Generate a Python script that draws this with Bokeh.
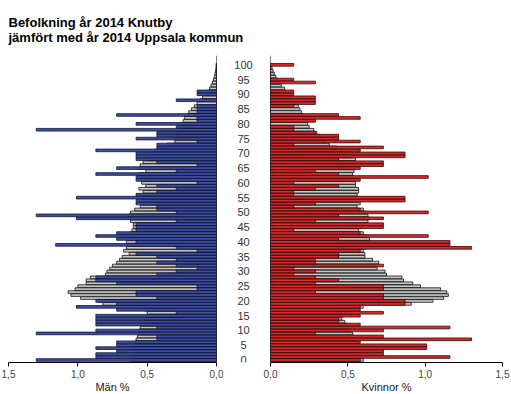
from bokeh.plotting import figure
from bokeh.layouts import column, row
from bokeh.models import Range1d, FixedTicker, Label, Span, ColumnDataSource, CustomJSTickFormatter
from bokeh.embed import file_html
from bokeh.resources import INLINE
from bokeh.core.properties import value

# ---------------- data ----------------
ages = list(range(0, 101))

men_knutby = [
    1.30, 0.87, 0.87, 0.72, 0.87, 0.72, 0.72, 0.43, 0.43, 1.30,
    0.87, 0.43, 0.87, 0.87, 0.87, 0.87, 0.29, 0.72, 1.01, 0.72,
    0.87, 0.43, 0.58, 0.58, 0.14, 0.14, 0.72, 0.87, 0.87, 0.43,
    0.29, 0.14, 0.29, 0.43, 0.29, 0.43, 0.58, 0.14, 0.29, 1.16,
    0.58, 0.72, 0.87, 0.72, 0.58, 0.58, 0.58, 0.29, 1.01, 1.30,
    0.29, 0.43, 0.43, 0.58, 0.58, 1.01, 0.58, 0.43, 0.29, 0.43,
    0.14, 0.58, 0.58, 0.87, 0.29, 0.72, 0.14, 0.43, 0.58, 0.58,
    0.58, 0.87, 0.43, 0.43, 0.14, 0.58, 0.43, 0.43, 1.30, 0.29,
    0.58, 0.14, 0.14, 0.72, 0.14, 0.14, 0.14, 0.00, 0.29, 0.00,
    0.14, 0.14, 0.00, 0.00, 0.00, 0.00, 0.00, 0.00, 0.00, 0.00,
    0.00,
]

men_uppsala = [
    0.62, 0.62, 0.61, 0.60, 0.60, 0.59, 0.59, 0.58, 0.57, 0.56,
    0.56, 0.55, 0.53, 0.52, 0.51, 0.50, 0.50, 0.52, 0.55, 0.82,
    0.85, 0.98, 1.05, 1.07, 1.02, 1.00, 0.94, 0.94, 0.91, 0.80,
    0.79, 0.77, 0.75, 0.72, 0.70, 0.68, 0.63, 0.67, 0.65, 0.64,
    0.65, 0.64, 0.62, 0.62, 0.61, 0.60, 0.60, 0.62, 0.62, 0.63,
    0.62, 0.59, 0.55, 0.54, 0.53, 0.52, 0.52, 0.53, 0.56, 0.51,
    0.54, 0.54, 0.55, 0.56, 0.51, 0.56, 0.55, 0.53, 0.50, 0.48,
    0.46, 0.44, 0.40, 0.36, 0.30, 0.31, 0.30, 0.29, 0.28, 0.27,
    0.26, 0.24, 0.23, 0.21, 0.20, 0.18, 0.16, 0.14, 0.12, 0.10,
    0.08, 0.065, 0.05, 0.04, 0.03, 0.022, 0.016, 0.011, 0.007, 0.004,
    0.003,
]

women_knutby = [
    0.58, 1.16, 0.73, 0.73, 1.01, 1.01, 0.58, 1.30, 0.73, 0.29,
    0.73, 1.16, 0.58, 0.44, 0.44, 0.58, 0.73, 0.58, 0.58, 0.87,
    0.87, 0.73, 0.73, 0.29, 0.73, 0.73, 0.29, 0.44, 0.29, 0.15,
    0.29, 0.15, 0.73, 0.29, 0.29, 0.44, 0.44, 0.58, 1.30, 1.16,
    1.16, 0.44, 1.02, 0.58, 0.15, 0.73, 0.73, 0.29, 0.73, 0.44,
    1.02, 0.58, 0.15, 0.29, 0.87, 0.87, 0.15, 0.15, 0.29, 0.44,
    0.15, 0.58, 1.02, 0.44, 0.29, 0.58, 0.73, 0.73, 0.44, 0.87,
    0.87, 0.58, 0.73, 0.15, 0.58, 0.44, 0.44, 0.29, 0.15, 0.15,
    0.00, 0.29, 0.58, 0.44, 0.00, 0.00, 0.15, 0.29, 0.29, 0.29,
    0.15, 0.15, 0.00, 0.00, 0.29, 0.15, 0.00, 0.00, 0.00, 0.00,
    0.15,
]

women_uppsala = [
    0.60, 0.59, 0.58, 0.58, 0.57, 0.56, 0.56, 0.55, 0.54, 0.53,
    0.52, 0.51, 0.50, 0.48, 0.46, 0.47, 0.48, 0.52, 0.60, 0.91,
    1.05, 1.12, 1.15, 1.14, 1.10, 0.97, 0.92, 0.86, 0.85, 0.75,
    0.74, 0.69, 0.68, 0.70, 0.66, 0.61, 0.61, 0.60, 0.62, 0.63,
    0.64, 0.64, 0.62, 0.60, 0.57, 0.60, 0.62, 0.63, 0.64, 0.63,
    0.62, 0.60, 0.56, 0.58, 0.57, 0.56, 0.56, 0.57, 0.57, 0.55,
    0.55, 0.55, 0.54, 0.53, 0.54, 0.55, 0.56, 0.55, 0.55, 0.52,
    0.50, 0.47, 0.43, 0.38, 0.36, 0.34, 0.32, 0.30, 0.28, 0.25,
    0.24, 0.23, 0.22, 0.21, 0.20, 0.19, 0.18, 0.16, 0.14, 0.12,
    0.11, 0.10, 0.09, 0.07, 0.06, 0.045, 0.035, 0.025, 0.017, 0.01,
    0.006,
]

age_ticks = list(range(0, 101, 5))
x_ticks = [0.0, 0.5, 1.0, 1.5]

title_lines = ["Befolkning år 2014 Knutby", "jämfört med år 2014 Uppsala kommun"]
men_label = "Män %"
women_label = "Kvinnor %"

# ---------------- styling ----------------
FONT = "Liberation Sans"
FH = 307
Y0, Y1 = -0.85, 103.15
BAR_H = 0.9

fmt = CustomJSTickFormatter(code="return tick.toFixed(1).replace('.', ',');")


def style_xaxis(p, label, hidden=False):
    ax = p.xaxis[0]
    ax.ticker = FixedTicker(ticks=x_ticks)
    ax.formatter = fmt
    ax.minor_tick_line_color = None
    ax.major_tick_in = 0
    ax.major_tick_out = 4
    ax.major_label_standoff = 3
    ax.axis_label = label
    ax.axis_label_standoff = 0
    ax.axis_label_text_font = FONT
    ax.axis_label_text_font_size = "11px"
    ax.axis_label_text_font_style = "normal"
    ax.axis_label_text_color = "#222222"
    ax.major_label_text_font = FONT
    ax.major_label_text_font_size = "10px"
    ax.major_label_text_color = "#444444"
    ax.axis_line_color = "black"
    ax.major_tick_line_color = "black"
    if hidden:
        ax.axis_line_alpha = 0
        ax.major_tick_line_alpha = 0
        ax.major_label_text_alpha = 0
        ax.axis_label_text_alpha = 0


def side(xr, label, kvals, uvals, kfill, kline, mbl, mbr, fw):
    p = figure(frame_width=fw, frame_height=FH, x_range=xr, y_range=Range1d(Y0, Y1),
               output_backend="svg", toolbar_location=None, y_axis_location=None,
               min_border_left=mbl, min_border_right=mbr, min_border_top=0,
               min_border_bottom=0, outline_line_color=None)
    p.grid.visible = False
    src = ColumnDataSource(dict(age=ages, u=uvals, k=kvals))
    p.hbar(y="age", left=0, right="u", height=BAR_H, fill_color="#c6c6c6",
           line_color="#111111", line_width=0.8, source=src)
    p.hbar(y="age", left=0, right="k", height=BAR_H, fill_color=kfill,
           line_color=kline, line_width=0.8, source=src)
    p.add_layout(Span(location=0, dimension="height", line_color="black", line_width=1))
    style_xaxis(p, label)
    return p


left = side(Range1d(1.5, 0), men_label, men_knutby, men_uppsala,
            "#3f4fa0", "#10153a", 8, 7, 208)
right = side(Range1d(0, 1.5), women_label, women_knutby, women_uppsala,
             "#d42c2c", "#3a0808", 7, 9, 232)

mid = figure(frame_width=40, frame_height=FH, x_range=Range1d(0, 1), y_range=Range1d(Y0, Y1),
             output_backend="svg", toolbar_location=None, y_axis_location=None,
             min_border_left=0, min_border_right=0, min_border_top=0, min_border_bottom=0,
             outline_line_color=None)
mid.grid.visible = False
mid.text(x=0.5, y=age_ticks, text=[str(a) for a in age_ticks], text_align="center",
         text_baseline="middle", text_font=value(FONT), text_font_size="11px",
         text_color="#333333")
style_xaxis(mid, men_label, hidden=True)

tf = figure(width=511, height=55, x_range=Range1d(0, 1), y_range=Range1d(0, 1),
            output_backend="svg", toolbar_location=None, x_axis_location=None,
            y_axis_location=None, min_border=0, outline_line_color=None)
tf.grid.visible = False
for i, t in enumerate(title_lines):
    tf.add_layout(Label(x=8, y=33 - 15 * i, x_units="screen", y_units="screen", text=t,
                        text_font=FONT, text_font_size="13px", text_font_style="bold",
                        text_color="black", text_baseline="alphabetic"))

layout = column(tf, row(left, mid, right, spacing=0), spacing=0)
open("out.html", "w").write(file_html(layout, INLINE))
